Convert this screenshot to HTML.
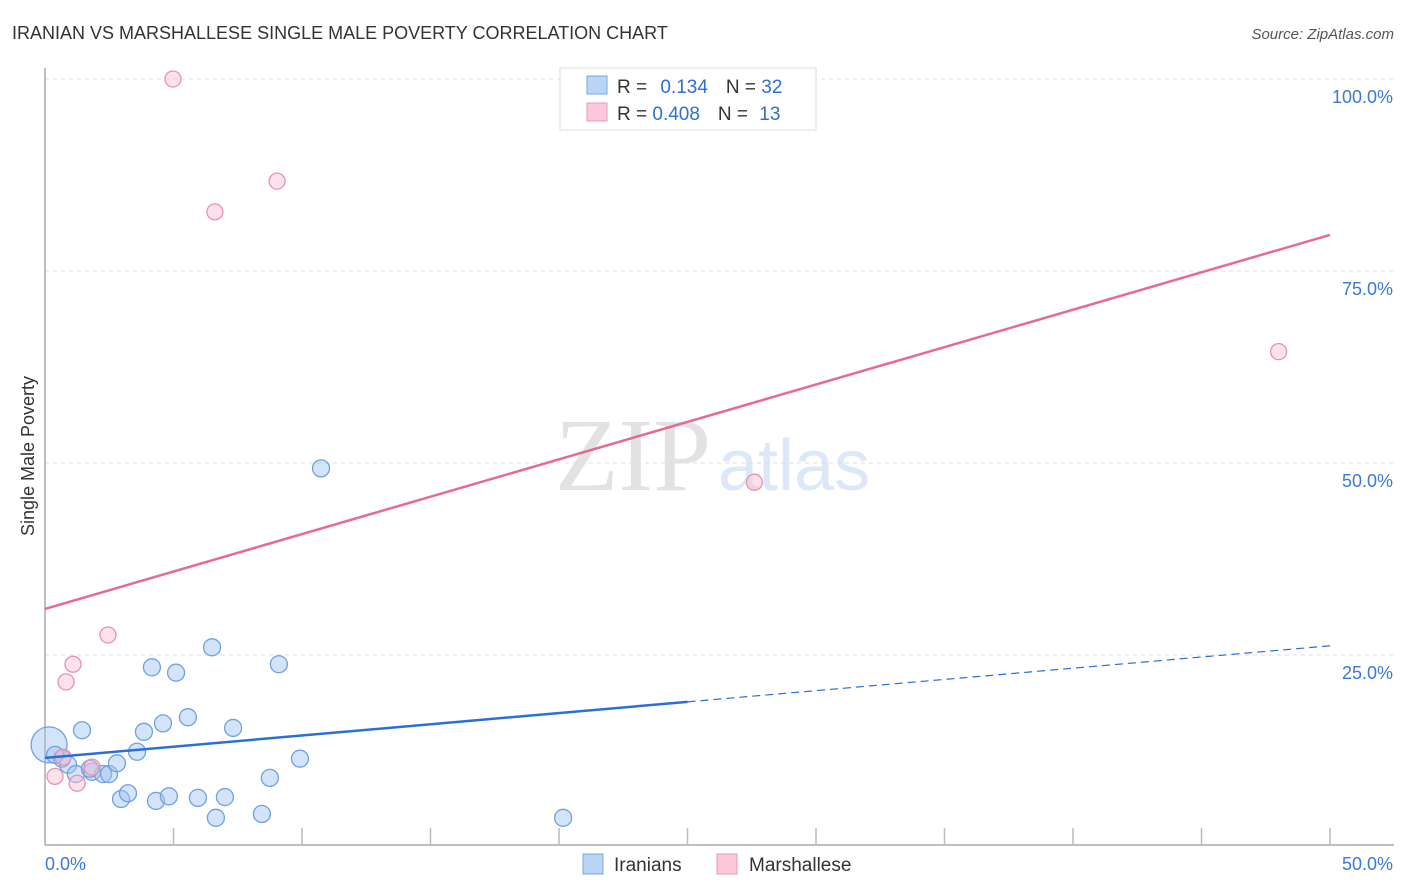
<!DOCTYPE html>
<html><head><meta charset="utf-8"><style>
body{margin:0;background:#fff;font-family:"Liberation Sans",sans-serif}
svg{display:block}
</style></head><body>
<svg id="c" width="1406" height="892">
<text x="12" y="39" font-size="18" fill="#333">IRANIAN VS MARSHALLESE SINGLE MALE POVERTY CORRELATION CHART</text>
<text x="1394" y="39" font-size="15" fill="#555" font-style="italic" text-anchor="end">Source: ZipAtlas.com</text>
<text x="555" y="490" font-size="104" fill="#e2e2e2" font-family="Liberation Serif,serif">ZIP</text>
<text x="718" y="490" font-size="72" fill="#dce8f7">atlas</text>
<text transform="translate(34,456) rotate(-90)" font-size="18" fill="#333" text-anchor="middle">Single Male Poverty</text>
<g id="grid"></g><g id="marks"></g>
<g>
<rect x="560" y="68" width="256" height="62" fill="#fff" stroke="#ddd"/>
<rect x="587" y="76" width="20" height="18" fill="#b9d4f5" stroke="#7aa7e0"/>
<rect x="587" y="103" width="20" height="18" fill="#fbc9d8" stroke="#ec97b2"/>
<text x="617" y="93" font-size="19" fill="#333">R = <tspan fill="#2f6fd0" dx="8">0.134</tspan><tspan dx="18" fill="#333">N = </tspan><tspan fill="#2f6fd0">32</tspan></text>
<text x="617" y="120" font-size="19" fill="#333">R = <tspan fill="#2f6fd0">0.408</tspan><tspan dx="18" fill="#333">N = </tspan><tspan fill="#2f6fd0" dx="6">13</tspan></text>
</g>
<g>
<rect x="583" y="854" width="20" height="20" fill="#b9d4f5" stroke="#7aa7e0"/>
<text x="614" y="871" font-size="19" fill="#333">Iranians</text>
<rect x="717" y="854" width="20" height="20" fill="#fbc9d8" stroke="#ec97b2"/>
<text x="749" y="871" font-size="19" fill="#333">Marshallese</text>
</g>
</svg>
<script>
const blueX=[0.16,1.44,0.66,0.9,1.2,1.83,2.26,2.49,2.8,3.58,3.85,4.16,4.59,5.1,5.56,6.5,7.32,2.96,3.23,4.32,4.82,5.95,7.0,6.65,8.44,8.75,9.1,9.92,10.74,20.16,0.39,1.75];
const blueY=[13.3,15.2,11.5,10.7,9.5,9.8,9.5,9.5,10.9,12.4,15.0,23.4,16.1,22.7,16.9,26.0,15.5,6.25,7.0,6.0,6.6,6.4,6.5,3.8,4.3,9.0,23.8,11.5,49.3,3.8,12.0,10.2];
const pinkX=[4.98,9.03,6.61,27.6,48.0,2.45,1.09,0.82,0.39,1.25,0.7,1.83];
const pinkY=[100,86.7,82.7,47.5,64.5,27.6,23.8,21.5,9.2,8.3,11.7,10.4];
const blueTrend=[11.6,26.2];
const pinkTrend=[31.0,79.7];
const yTicks=[25,50,75,100];
const yTickLabels=["25.0%","50.0%","75.0%","100.0%"];
const xTicks=[5,10,15,20,25,30,35,40,45,50];
const ns="http://www.w3.org/2000/svg";
const sx=v=>45+v/50*1285, sy=v=>847-v*7.68;
function mk(t,a,p){const e=document.createElementNS(ns,t);for(const k in a)e.setAttribute(k,a[k]);p.appendChild(e);return e;}
const g=document.getElementById('grid'), m=document.getElementById('marks');
yTicks.forEach((t,i)=>{
 const l=mk('line',{x1:45,x2:1394,y1:sy(t),y2:sy(t),stroke:'#ddd','stroke-dasharray':'4,4'},g);
 
 
 const tx=mk('text',{x:1393,y:sy(t)+24,'font-size':18,fill:'#3d78d6','text-anchor':'end'},g);
 tx.textContent=yTickLabels[i];
 
 
});
const ax=mk('line',{x1:45,x2:45,y1:68,y2:845,stroke:'#aaa','stroke-width':1.5},g);


const bx=mk('line',{x1:45,x2:1394,y1:845,y2:845,stroke:'#aaa','stroke-width':1.5},g);


xTicks.forEach(t=>{
 const l=mk('line',{x1:sx(t),x2:sx(t),y1:828,y2:845,stroke:'#bbb','stroke-width':1.5},g);
 
 
});
const x0=mk('text',{x:45,y:870,'font-size':18,fill:'#3d78d6'},g);x0.textContent='0.0%';


const x1=mk('text',{x:1393,y:870,'font-size':18,fill:'#3d78d6','text-anchor':'end'},g);x1.textContent='50.0%';


blueX.forEach((x,i)=>{
 const c=mk('circle',{cx:sx(x),cy:sy(blueY[i]),r:i==0?18:8.5,fill:'rgba(160,196,240,0.45)',stroke:'#6fa1e0','stroke-width':1.3},m);
 
 
});
pinkX.forEach((x,i)=>{
 const c=mk('circle',{cx:sx(x),cy:sy(pinkY[i]),r:8,fill:'rgba(250,190,210,0.45)',stroke:'#e891ad','stroke-width':1.3},m);
 
 
});
const bAt=x=>blueTrend[0]+(blueTrend[1]-blueTrend[0])*x/50;
const pAt=x=>pinkTrend[0]+(pinkTrend[1]-pinkTrend[0])*x/50;
const bl=mk('line',{x1:sx(0),y1:sy(bAt(0)),x2:sx(25),y2:sy(bAt(25)),stroke:'#2a6fd6','stroke-width':2.5},m);


const bd=mk('line',{x1:sx(25),y1:sy(bAt(25)),x2:sx(50),y2:sy(bAt(50)),stroke:'#2a6fd6','stroke-width':1.2,'stroke-dasharray':'8,5'},m);


const pl=mk('line',{x1:sx(0),y1:sy(pAt(0)),x2:sx(50),y2:sy(pAt(50)),stroke:'#e66a93','stroke-width':2.5},m);


</script>
</body></html>
